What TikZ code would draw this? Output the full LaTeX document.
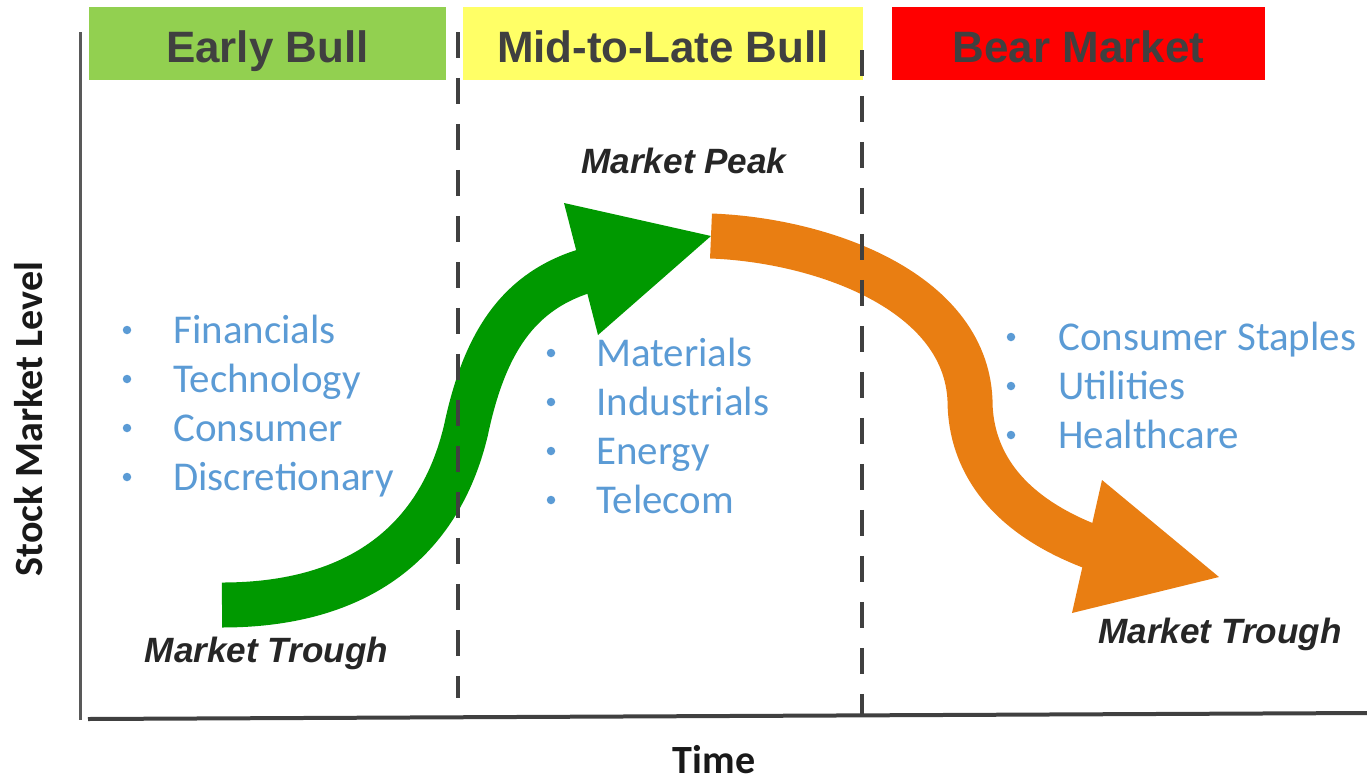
\documentclass[tikz,border=0pt]{standalone}
\usepackage{fontspec}
\setmainfont{Liberation Sans}
\newfontfamily\calib{Carlito}
\usepackage{xcolor}
\usepackage{tikz}
\usetikzlibrary{positioning}

\definecolor{bullgreen}{HTML}{92D050}
\definecolor{lateyellow}{HTML}{FFFF66}
\definecolor{bearred}{HTML}{FF0000}
\definecolor{upgreen}{HTML}{009900}
\definecolor{downorange}{HTML}{E97E12}
\definecolor{sectorblue}{HTML}{5B9BD5}
\definecolor{headgray}{HTML}{404040}

\tikzset{
  headtext/.style={anchor=base, inner sep=0pt, text=headgray, font=\bfseries\fontsize{25}{30}\selectfont},
  marklabel/.style={anchor=base, inner sep=0pt, text=black!85, font=\bfseries\itshape\fontsize{20}{24}\selectfont},
  axislabel/.style={inner sep=0pt, text=black!90, font=\calib\bfseries\fontsize{22.8}{27}\selectfont},
  sector/.style={anchor=base west, inner sep=0pt, text=sectorblue, font=\calib\fontsize{23.3}{28}\selectfont},
  sectordot/.style={circle, fill=sectorblue, inner sep=0pt, minimum size=0.17cm},
  phaseline/.style={headgray, line width=0.08cm, dash pattern=on 0.52cm off 0.4cm},
  shaft/.style={line width=0.9cm, line cap=butt}
}

\begin{document}
\begin{tikzpicture}[x=0.02cm, y=-0.02cm]
    \useasboundingbox (0,0) rectangle (1367,782);

    % Fasi
    \fill[bullgreen] (89,7) rectangle (446,80);
    \fill[lateyellow] (463,7) rectangle (863,80);
    \fill[bearred] (892,7) rectangle (1265,80);
    \node[headtext] (early) at (267.5,62) {Early Bull};
    \node[headtext] (late) at (663,62) {Mid-to-Late Bull};
    \node[headtext] (bear) at (1078.5,62) {Bear Market};

    % Assi
    \coordinate (ytop) at (80,32);
    \coordinate (origin) at (80,720);
    \coordinate (xstart) at (88,719);
    \coordinate (xend) at (1367,713);
    \draw[black!65, line width=0.06cm] (ytop) -- (origin);
    \draw[headgray, line width=0.08cm] (xstart) -- (xend);
    \node[axislabel, rotate=90] (level) at (29,419) {Stock Market Level};
    \node[axislabel, anchor=base] (time) at (714,773) {Time};

    % Frecce
    \coordinate (troughL) at (222,605);
    \coordinate (peak) at (711,236);
    \coordinate (troughR) at (1219,577);
    \draw[shaft, upgreen] (troughL) .. controls (360,605) and (440,540) .. (466,430)
        .. controls (485,340) and (520,290) .. (588,270);
    \fill[upgreen] (564,203) -- (peak) -- (598,335) -- cycle;
    \draw[shaft, downorange] (peak) .. controls (820,240) and (965,290) .. (970,400)
        .. controls (970,450) and (995,510) .. (1092,547);
    \fill[downorange] (1102,480) -- (troughR) -- (1072,613) -- cycle;

    % Separatori
    \draw[phaseline] (458,32) -- (458,698);
    \draw[phaseline] (862,50) -- (862,716);

    \node[marklabel] (peaklbl) at (684,173) {Market Peak};
    \node[marklabel] (troughLlbl) at (266.5,662) {Market Trough};
    \node[marklabel] (troughRlbl) at (1220,643) {Market Trough};

    % Settori
    \foreach \sec [count=\i] in {Financials, Technology, Consumer, Discretionary} {
        \node[sector] (earlysec\i) at (173,{294+49*\i}) {\sec};
        \node[sectordot] (earlydot\i) at (127,{281+49*\i}) {};
    }
    \foreach \sec [count=\i] in {Materials, Industrials, Energy, Telecom} {
        \node[sector] (latesec\i) at (596,{317+49*\i}) {\sec};
        \node[sectordot] (latedot\i) at (551,{304+49*\i}) {};
    }
    \foreach \sec [count=\i] in {Consumer Staples, Utilities, Healthcare} {
        \node[sector] (bearsec\i) at (1058,{301+49*\i}) {\sec};
        \node[sectordot] (beardot\i) at (1011,{288+49*\i}) {};
    }
\end{tikzpicture}
\end{document}
